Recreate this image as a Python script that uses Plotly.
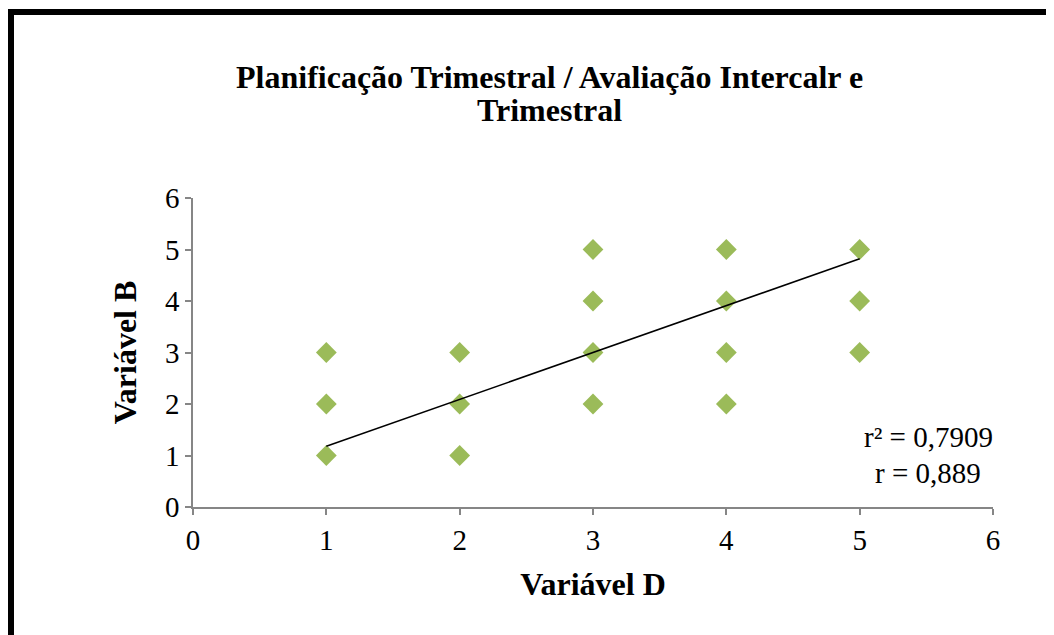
import plotly.graph_objects as go

# ===============================
# DATA
# ===============================
var_d = [1, 1, 1, 2, 2, 2, 3, 3, 3, 3, 4, 4, 4, 4, 5, 5, 5]
var_b = [1, 2, 3, 1, 2, 3, 2, 3, 4, 5, 2, 3, 4, 5, 3, 4, 5]

trend_x = [1, 5]
trend_y = [1.18, 4.82]

stat_lines = ["r² = 0,7909", "r = 0,889"]
title_lines = ["Planificação Trimestral / Avaliação Intercalr e", "Trimestral"]

FONT = "Liberation Serif"
GREEN = "#9BBB59"
AXIS_GREY = "#868686"

# page has an 8px body margin, so work in window pixels minus OFF
OFF = 8
W, H = 1054, 635
L = 193 - OFF
T = 198 - OFF
R = W - (993 - OFF)
B = H - (507 - OFF)
pw, ph = W - L - R, H - T - B


def px_x(p):
    return (p - OFF - L) / pw


def px_y(p):
    return (T + ph - (p - OFF)) / ph


fig = go.Figure()

fig.add_trace(go.Scatter(
    x=var_d, y=var_b,
    mode="markers",
    marker=dict(symbol="diamond", size=16, color=GREEN, line=dict(width=0)),
    showlegend=False,
))

fig.add_trace(go.Scatter(
    x=trend_x, y=trend_y,
    mode="lines",
    line=dict(color="black", width=1.5),
    showlegend=False,
))

fig.update_layout(
    width=W, height=H,
    margin=dict(l=L, r=R, t=T, b=B),
    paper_bgcolor="white",
    plot_bgcolor="white",
    font=dict(family=FONT, color="black", size=29),
    xaxis=dict(
        range=[0, 6], dtick=1, tick0=0,
        showgrid=False, zeroline=False,
        showline=True, linecolor=AXIS_GREY, linewidth=1.5,
        ticks="outside", ticklen=6, tickcolor=AXIS_GREY, tickwidth=1.5,
        tickfont=dict(family=FONT, size=29),
        title=dict(text="<b>Variável D</b>", font=dict(family=FONT, size=32), standoff=18),
    ),
    yaxis=dict(
        range=[0, 6], dtick=1, tick0=0,
        showgrid=False, zeroline=False,
        showline=True, linecolor=AXIS_GREY, linewidth=1.5,
        ticks="outside", ticklen=6, tickcolor=AXIS_GREY, tickwidth=1.5,
        tickfont=dict(family=FONT, size=29),
        title=dict(text="<b>Variável B</b>", font=dict(family=FONT, size=32), standoff=19),
    ),
)

# title, one annotation per line (tighter line spacing than plotly's)
for txt, yc in zip(title_lines, [77, 110]):
    fig.add_annotation(
        x=px_x(549), y=px_y(yc), xref="paper", yref="paper",
        text="<b>" + txt + "</b>", showarrow=False,
        font=dict(family=FONT, size=32, color="black"),
        xanchor="center", yanchor="middle",
    )

# r / r² labels
for txt, yc in zip(stat_lines, [437, 473]):
    fig.add_annotation(
        x=px_x(928), y=px_y(yc), xref="paper", yref="paper",
        text=txt, showarrow=False,
        font=dict(family=FONT, size=29),
        xanchor="center", yanchor="middle",
    )

# chart frame (cropped at right and bottom)
fig.add_shape(
    type="rect", xref="paper", yref="paper",
    x0=px_x(11), x1=px_x(W + 60),
    y0=px_y(H + 60), y1=px_y(12),
    line=dict(color="black", width=6),
    fillcolor="rgba(0,0,0,0)",
    layer="above",
)

fig.write_html("out.html")
